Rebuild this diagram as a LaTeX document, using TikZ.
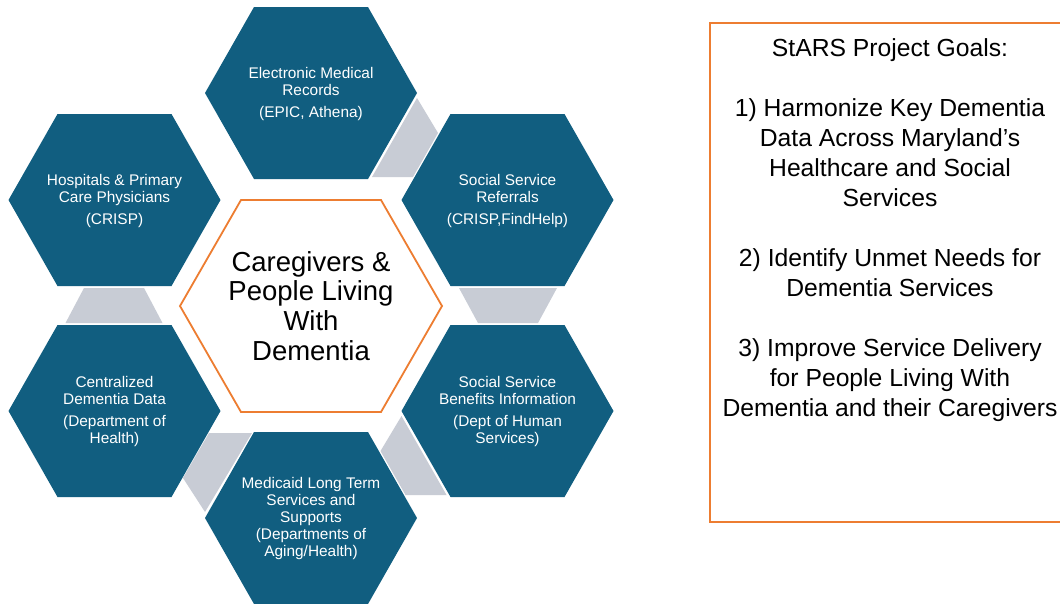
\documentclass[tikz,border=0pt]{standalone}
\usepackage{fontspec}
\setmainfont{Liberation Sans}
\definecolor{hexblue}{HTML}{115E80}
\definecolor{linkgray}{HTML}{C8CCD5}
\definecolor{accent}{HTML}{ED7D31}
\newcommand{\bluehexat}[1]{\fill[hexblue, shift={(#1)}] (-106,0) -- (-57,-86) -- (57,-86) -- (106,0) -- (57,86) -- (-57,86) -- cycle;}
\begin{document}
\begin{tikzpicture}[x=1pt,y=-1pt,
  hextext/.style={text=white, align=center, font=\fontsize{15.4}{17}\selectfont, inner sep=0pt},
  linkshape/.style={fill=linkgray},
  goaltext/.style={align=center, font=\fontsize{24.7}{30}\selectfont, inner sep=0pt, text=black},
  centertext/.style={align=center, font=\fontsize{27.5}{29.7}\selectfont, inner sep=0pt, text=black}]
\useasboundingbox (0,0) rectangle (1060,603);
\clip (0,0) rectangle (1060,603);
\fill[white] (0,0) rectangle (1060,603);

% gray links
\fill[linkshape] (417,98) -- (438,133) -- (413,177) -- (372,177) -- cycle;
\fill[linkshape] (459,288) -- (557,288) -- (538,323) -- (478,323) -- cycle;
\fill[linkshape] (84,288) -- (144,288) -- (162.5,323) -- (65.5,323) -- cycle;
\fill[linkshape] (401.5,416) -- (380.5,451) -- (405.5,495) -- (446.5,495) -- cycle;
\fill[linkshape] (209,433) -- (252,433) -- (205,512) -- (183,478) -- cycle;

% blue hexagons
\bluehexat{311,93}
\bluehexat{114.5,200}
\bluehexat{507.5,200}
\bluehexat{114.5,411}
\bluehexat{507.5,411}
\bluehexat{311,518}

% center hexagon
\draw[accent, line width=1.8pt, fill=white] (180,306) -- (241,200) -- (381,200) -- (442,306) -- (381,412) -- (241,412) -- cycle;

\node[hextext] (emr) at (311,94) {Electronic Medical\\Records\\[5pt](EPIC, Athena)};
\node[hextext] (hosp) at (114.5,201) {Hospitals \& Primary\\Care Physicians\\[5pt](CRISP)};
\node[hextext] (refer) at (507.5,201) {Social Service\\Referrals\\[5pt](CRISP,FindHelp)};
\node[hextext] (cdata) at (114.5,412) {Centralized\\Dementia Data\\[5pt](Department of\\Health)};
\node[hextext] (benef) at (507.5,412) {Social Service\\Benefits Information\\[5pt](Dept of Human\\Services)};
\node[hextext] (medic) at (311,519) {Medicaid Long Term\\Services and\\Supports\\(Departments of\\Aging/Health)};

\node[centertext] (care) at (311,306) {Caregivers \&\\People Living\\With\\Dementia};

% goals box
\draw[accent, line width=1.5pt] (710,23) rectangle (1072,522);
\node[goaltext, anchor=north] (goals) at (890,38) {StARS Project Goals:\\[30pt]
1) Harmonize Key Dementia\\Data Across Maryland’s\\Healthcare and Social\\Services\\[30pt]
2) Identify Unmet Needs for\\Dementia Services\\[30pt]
3) Improve Service Delivery\\for People Living With\\Dementia and their Caregivers};
\end{tikzpicture}
\end{document}
